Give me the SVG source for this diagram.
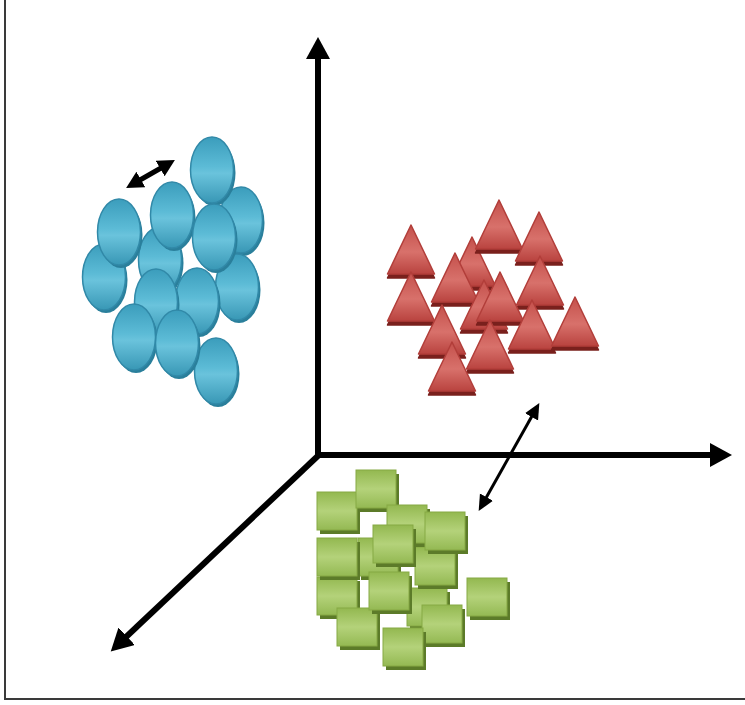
<svg xmlns="http://www.w3.org/2000/svg" xmlns:xlink="http://www.w3.org/1999/xlink" width="745" height="705" viewBox="0 0 745 705">
<style>
.axis{stroke:#000;stroke-width:6;fill:none}
.thin{stroke:#000;stroke-width:3;fill:none}
.frame{stroke:#3a3a3a;stroke-width:2;fill:none}
</style>
<defs>
<linearGradient id="gb" x1="0" y1="0" x2="0" y2="1">
<stop offset="0" stop-color="#3b9dbc"/><stop offset="0.45" stop-color="#5cbbd6"/><stop offset="0.55" stop-color="#6ac3dc"/><stop offset="1" stop-color="#3897b5"/>
</linearGradient>
<linearGradient id="gr" x1="0" y1="0" x2="0" y2="1">
<stop offset="0" stop-color="#c4504b"/><stop offset="0.55" stop-color="#d8716b"/><stop offset="1" stop-color="#b9433f"/>
</linearGradient>
<linearGradient id="gg" x1="0" y1="0" x2="0" y2="1">
<stop offset="0" stop-color="#93b850"/><stop offset="0.5" stop-color="#b4d27a"/><stop offset="1" stop-color="#94b953"/>
</linearGradient>
<g id="ball">
<ellipse cx="2" cy="3" rx="21.5" ry="33" fill="#2a7f9b"/>
<ellipse cx="0" cy="0" rx="21.5" ry="33" fill="url(#gb)" stroke="#3189a8" stroke-width="1.5"/>
</g>
<g id="tri">
<path d="M0,4 L-23.5,53 L23.5,53 Z" fill="#7a201d" stroke="#7a201d" stroke-width="1.5" stroke-linejoin="round"/>
<path d="M0,0 L-23.5,49 L23.5,49 Z" fill="url(#gr)" stroke="#b23e3a" stroke-width="1.5" stroke-linejoin="round"/>
</g>
<g id="sq">
<rect x="3" y="4" width="40" height="38" fill="#5c7b29"/>
<rect x="0" y="0" width="40" height="38" fill="url(#gg)" stroke="#86a944" stroke-width="1"/>
</g>
<marker id="ah" markerUnits="userSpaceOnUse" markerWidth="24" markerHeight="26" refX="1" refY="12" orient="auto">
<path d="M0,0 L22,12 L0,24 Z" fill="#000"/>
</marker>
<marker id="sh" markerUnits="userSpaceOnUse" markerWidth="18" markerHeight="16" refX="1" refY="7.5" orient="auto-start-reverse">
<path d="M0,0 L16,7.5 L0,15 Z" fill="#000"/>
</marker>
<marker id="bh" markerUnits="userSpaceOnUse" markerWidth="20" markerHeight="20" refX="1" refY="9" orient="auto-start-reverse">
<path d="M0,0 L17,9 L0,18 Z" fill="#000"/>
</marker>
</defs>
<rect width="745" height="705" fill="#fff"/>
<path class="frame" d="M5,0 V699 H745"/>
<g id="connectors">
<line class="axis" x1="318" y1="458" x2="318" y2="58" marker-end="url(#ah)"/>
<line class="axis" x1="315" y1="455" x2="711" y2="455" marker-end="url(#ah)"/>
<line class="axis" x1="321" y1="453" x2="126" y2="637" marker-end="url(#ah)"/>
<line class="thin" x1="532" y1="416" x2="486" y2="498" marker-start="url(#sh)" marker-end="url(#sh)"/>
<line class="axis" style="stroke-width:5" x1="140" y1="180" x2="161" y2="168" marker-start="url(#bh)" marker-end="url(#bh)"/>
</g>
<g id="blue-cluster">
<g id="b6"><use xlink:href="#ball" x="160" y="260"/></g>
<g id="b5"><use xlink:href="#ball" x="104" y="277"/></g>
<g id="b4"><use xlink:href="#ball" x="119" y="232"/></g>
<g id="b2"><use xlink:href="#ball" x="241" y="220"/></g>
<g id="b1"><use xlink:href="#ball" x="212" y="170"/></g>
<g id="b3"><use xlink:href="#ball" x="172" y="215"/></g>
<g id="b8"><use xlink:href="#ball" x="237" y="287"/></g>
<g id="b7"><use xlink:href="#ball" x="214" y="237"/></g>
<g id="b10"><use xlink:href="#ball" x="197" y="301"/></g>
<g id="b9"><use xlink:href="#ball" x="156" y="302"/></g>
<g id="b11"><use xlink:href="#ball" x="134" y="337"/></g>
<g id="b13"><use xlink:href="#ball" x="216" y="371"/></g>
<g id="b12"><use xlink:href="#ball" x="177" y="343"/></g>
</g>
<g id="red-cluster">
<g id="t4"><use xlink:href="#tri" x="472" y="237"/></g>
<g id="t2"><use xlink:href="#tri" x="499" y="200"/></g>
<g id="t3"><use xlink:href="#tri" x="539" y="212"/></g>
<g id="t1"><use xlink:href="#tri" x="411" y="225"/></g>
<g id="t7"><use xlink:href="#tri" x="540" y="256"/></g>
<g id="t5"><use xlink:href="#tri" x="455" y="253"/></g>
<g id="t8b"><use xlink:href="#tri" x="484" y="280"/></g>
<g id="t8"><use xlink:href="#tri" x="500" y="272"/></g>
<g id="t6"><use xlink:href="#tri" x="411" y="272"/></g>
<g id="t10"><use xlink:href="#tri" x="532" y="300"/></g>
<g id="t11"><use xlink:href="#tri" x="575" y="297"/></g>
<g id="t9"><use xlink:href="#tri" x="442" y="305"/></g>
<g id="t12"><use xlink:href="#tri" x="490" y="320"/></g>
<g id="t13"><use xlink:href="#tri" x="452" y="342"/></g>
</g>
<g id="green-cluster">
<g id="s11"><use xlink:href="#sq" x="407" y="588"/></g>
<g id="s6"><use xlink:href="#sq" x="358" y="538"/></g>
<g id="s9"><use xlink:href="#sq" x="317" y="577"/></g>
<g id="s13"><use xlink:href="#sq" x="337" y="608"/></g>
<g id="s14"><use xlink:href="#sq" x="422" y="605"/></g>
<g id="s15"><use xlink:href="#sq" x="383" y="628"/></g>
<g id="s5"><use xlink:href="#sq" x="317" y="538"/></g>
<g id="s2"><use xlink:href="#sq" x="317" y="492"/></g>
<g id="s10"><use xlink:href="#sq" x="369" y="572"/></g>
<g id="s8"><use xlink:href="#sq" x="415" y="547"/></g>
<g id="s1"><use xlink:href="#sq" x="356" y="470"/></g>
<g id="s3"><use xlink:href="#sq" x="387" y="505"/></g>
<g id="s4"><use xlink:href="#sq" x="425" y="512"/></g>
<g id="s7"><use xlink:href="#sq" x="373" y="525"/></g>
<g id="s12"><use xlink:href="#sq" x="467" y="578"/></g>
</g>
</svg>
